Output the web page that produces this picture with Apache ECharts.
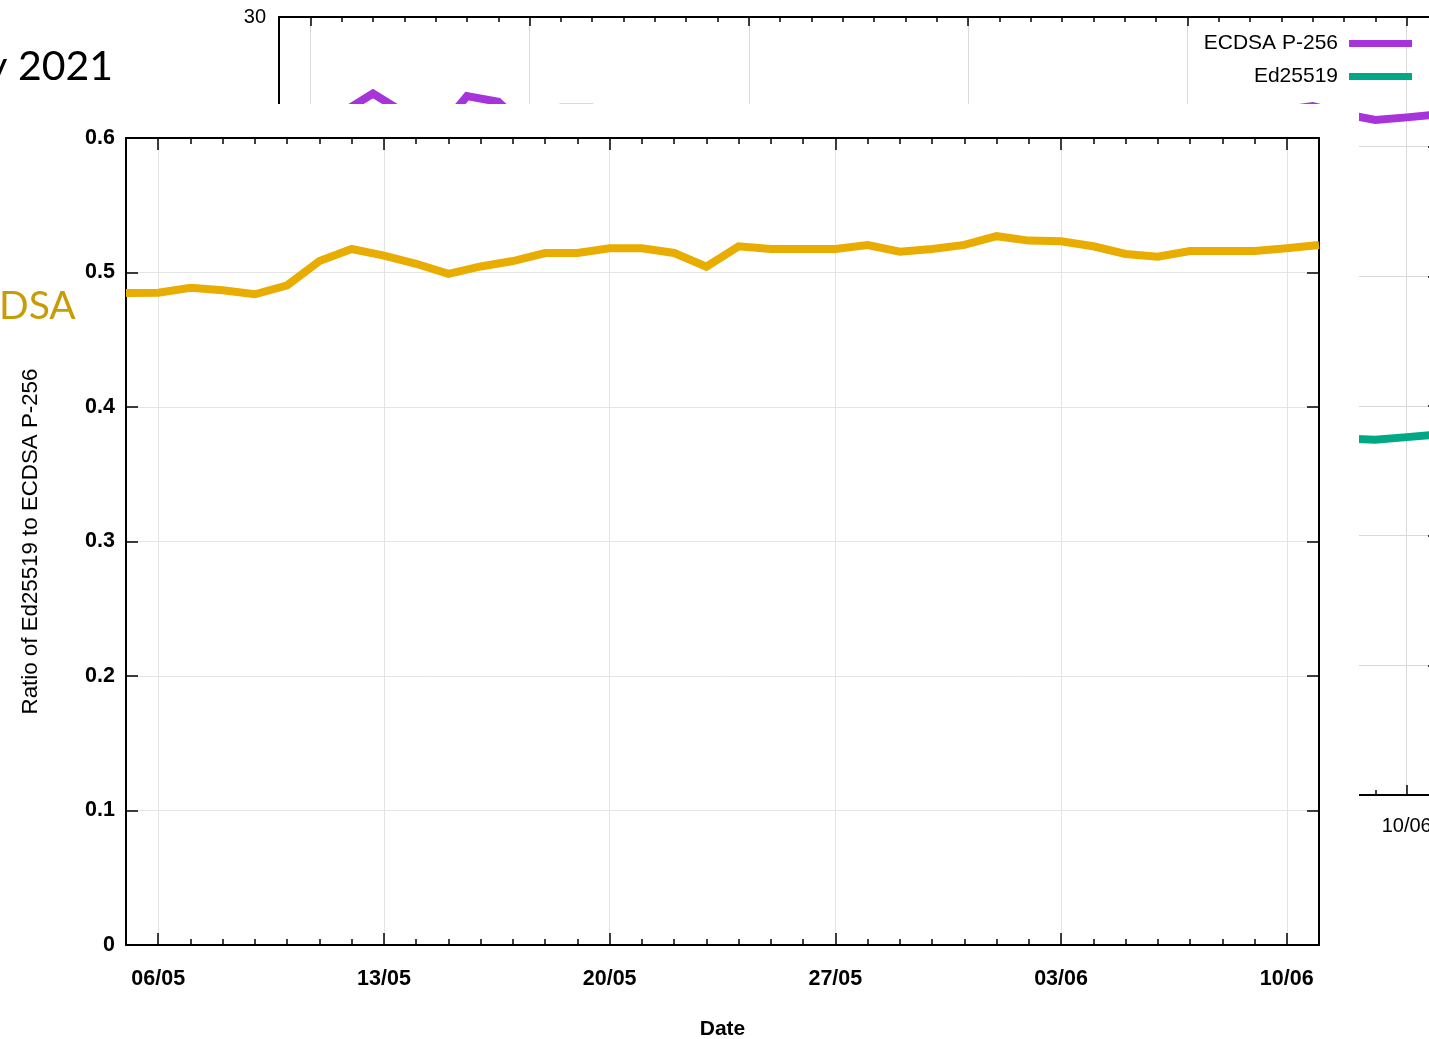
<!DOCTYPE html>
<html>
<head>
<meta charset="utf-8">
<script src="https://cdn.jsdelivr.net/npm/echarts@6/dist/echarts.min.js"></script>
<style>
html,body{margin:0;padding:0;background:#fff;overflow:hidden;}
#c{width:1429px;height:1039px;}
</style>
</head>
<body>
<div id="c"></div>
<script>
// ---- data ----
const dates = ['05/05','06/05','07/05','08/05','09/05','10/05','11/05','12/05','13/05','14/05','15/05','16/05','17/05','18/05','19/05','20/05','21/05','22/05','23/05','24/05','25/05','26/05','27/05','28/05','29/05','30/05','31/05','01/06','02/06','03/06','04/06','05/06','06/06','07/06','08/06','09/06','10/06','11/06'];
const ratio = [0.4848,0.4850,0.4887,0.4868,0.4838,0.4905,0.5085,0.5175,0.5125,0.5065,0.4990,0.5045,0.5085,0.5145,0.5145,0.5180,0.5180,0.5145,0.5043,0.5195,0.5175,0.5175,0.5175,0.5204,0.5155,0.5175,0.5205,0.5270,0.5237,0.5232,0.5195,0.5138,0.5118,0.5160,0.5160,0.5160,0.5180,0.5204];
const ecdsa = [26.10,26.20,26.30,27.05,26.30,25.50,26.95,26.73,25.60,26.50,26.50,26.00,25.80,26.20,26.10,26.30,26.20,25.90,26.40,26.00,26.10,26.20,26.00,26.30,26.10,26.20,26.00,25.80,26.10,26.20,26.00,26.30,26.40,26.57,26.26,26.03,26.13,26.24];
const ed25519 = [12.65,12.70,12.85,13.20,12.75,12.50,13.70,13.85,13.10,13.40,13.20,13.10,13.10,13.45,13.40,13.60,13.55,13.30,13.30,13.50,13.50,13.55,13.45,13.70,13.50,13.55,13.55,13.60,13.65,13.70,13.50,13.50,13.50,13.70,13.75,13.70,13.80,13.90];
const ratioTicks = {min: 0, max: 0.6, step: 0.1};
const timeTicks = {min: 0, max: 30, step: 5};

const FONT = 'Liberation Sans, Arial, sans-serif';
const major = (i) => (i - 1) % 7 === 0;
const black = '#000';

function xa(grid, pos, opts) {
  return Object.assign({
    type: 'category', gridIndex: grid, position: pos, data: dates, boundaryGap: false,
    axisLine: {show: false, onZero: false},
    axisTick: {show: false},
    axisLabel: {show: false},
    splitLine: {show: false}
  }, opts);
}

const chart = echarts.init(document.getElementById('c'), null, {width: 1429, height: 1039});
chart.setOption({
  animation: false,
  backgroundColor: '#fff',
  grid: [
    {left: 126, top: 138, width: 1193, height: 807, containLabel: false, outerBoundsMode: 'none'},
    {left: 279, top: 17, width: 1159, height: 778, containLabel: false, outerBoundsMode: 'none'}
  ],
  legend: {
    data: ['ECDSA P-256', 'Ed25519'],
    orient: 'vertical', right: 12, top: 28, align: 'right',
    icon: 'rect', itemWidth: 63, itemHeight: 7, itemGap: 12,
    selectedMode: false,
    textStyle: {fontSize: 21, color: black, fontFamily: FONT, padding: [0, 6, 0, 0]}
  },
  xAxis: [
    // main chart
    xa(0, 'bottom', {z: 60,
      axisLine: {show: true, onZero: false, lineStyle: {color: black, width: 2}},
      axisTick: {show: true, inside: true, length: 6, interval: 0, lineStyle: {color: black, width: 1.5}},
      axisLabel: {show: true, interval: major, margin: 23, fontSize: 21.5, fontWeight: 'bold', color: black, fontFamily: FONT},
      splitLine: {show: true, interval: major, lineStyle: {color: '#e4e4e4', width: 1}},
      name: 'Date', nameLocation: 'middle', nameGap: 74,
      nameTextStyle: {fontSize: 21, fontWeight: 'bold', color: black, fontFamily: FONT}
    }),
    xa(0, 'bottom', {z: 60, axisTick: {show: true, inside: true, length: 12, interval: major, lineStyle: {color: black, width: 1.5}}}),
    xa(0, 'top', {z: 60,
      axisLine: {show: true, onZero: false, lineStyle: {color: black, width: 2}},
      axisTick: {show: true, inside: true, length: 6, interval: 0, lineStyle: {color: black, width: 1.5}}}),
    xa(0, 'top', {z: 60, axisTick: {show: true, inside: true, length: 12, interval: major, lineStyle: {color: black, width: 1.5}}}),
    // background chart
    xa(1, 'bottom', {
      axisLine: {show: true, onZero: false, lineStyle: {color: black, width: 2}},
      axisTick: {show: true, inside: true, length: 5, interval: 0, lineStyle: {color: black, width: 1.5}},
      axisLabel: {show: true, interval: major, margin: 21, fontSize: 20, color: black, fontFamily: FONT},
      splitLine: {show: true, interval: major, lineStyle: {color: '#d9d9d9', width: 1}}
    }),
    xa(1, 'bottom', {axisTick: {show: true, inside: true, length: 10, interval: major, lineStyle: {color: black, width: 1.5}}}),
    xa(1, 'top', {
      axisLine: {show: true, onZero: false, lineStyle: {color: black, width: 2}},
      axisTick: {show: true, inside: true, length: 5, interval: 0, lineStyle: {color: black, width: 1.5}}}),
    xa(1, 'top', {axisTick: {show: true, inside: true, length: 9, interval: major, lineStyle: {color: black, width: 1.5}}})
  ],
  yAxis: [
    {type: 'value', gridIndex: 0, position: 'left', z: 60,
      min: ratioTicks.min, max: ratioTicks.max, interval: ratioTicks.step,
      axisLine: {show: true, onZero: false, lineStyle: {color: black, width: 2}},
      axisTick: {show: true, inside: true, length: 12, lineStyle: {color: black, width: 1.5}},
      axisLabel: {margin: 11, fontSize: 21.5, fontWeight: 'bold', color: black, fontFamily: FONT},
      splitLine: {show: true, lineStyle: {color: '#e4e4e4', width: 1}},
      name: 'Ratio of Ed25519 to ECDSA P-256', nameLocation: 'middle', nameGap: 84, nameRotate: 90,
      nameTextStyle: {fontSize: 22.3, color: black, fontFamily: FONT}
    },
    {type: 'value', gridIndex: 0, position: 'right', z: 60,
      min: ratioTicks.min, max: ratioTicks.max, interval: ratioTicks.step,
      axisLine: {show: true, onZero: false, lineStyle: {color: black, width: 2}},
      axisTick: {show: true, inside: true, length: 12, lineStyle: {color: black, width: 1.5}},
      axisLabel: {show: false}, splitLine: {show: false}
    },
    {type: 'value', gridIndex: 1, position: 'left',
      min: timeTicks.min, max: timeTicks.max, interval: timeTicks.step,
      axisLine: {show: true, onZero: false, lineStyle: {color: black, width: 2}},
      axisTick: {show: true, inside: true, length: 10, lineStyle: {color: black, width: 1.5}},
      axisLabel: {margin: 13, fontSize: 20, color: black, fontFamily: FONT},
      splitLine: {show: true, lineStyle: {color: '#d9d9d9', width: 1}}
    },
    {type: 'value', gridIndex: 1, position: 'right',
      min: timeTicks.min, max: timeTicks.max, interval: timeTicks.step,
      axisLine: {show: true, onZero: false, lineStyle: {color: black, width: 2}},
      axisTick: {show: true, inside: true, length: 10, lineStyle: {color: black, width: 1.5}},
      axisLabel: {show: false}, splitLine: {show: false}
    }
  ],
  series: [
    {name: 'ECDSA P-256', type: 'line', xAxisIndex: 4, yAxisIndex: 2, data: ecdsa,
      showSymbol: false, symbol: 'none', color: '#A634DA', lineStyle: {width: 8, color: '#A634DA', join: 'miter'}, z: 2},
    {name: 'Ed25519', type: 'line', xAxisIndex: 4, yAxisIndex: 2, data: ed25519,
      showSymbol: false, symbol: 'none', color: '#00A886', lineStyle: {width: 8, color: '#00A886', join: 'miter'}, z: 2},
    {name: 'ratio', type: 'line', xAxisIndex: 0, yAxisIndex: 0, data: ratio,
      showSymbol: false, symbol: 'none', color: '#E9AC00', lineStyle: {width: 8, color: '#E9AC00', join: 'miter'}, z: 70}
  ],
  graphic: [
    {type: 'rect', z: 50, silent: true, shape: {x: 0, y: 104, width: 1359, height: 935}, style: {fill: '#fff'}},
    {type: 'text', z: 65, silent: true, x: 113, y: 67,
      style: {text: 'y 2021', fill: '#000', font: '41px Lato, "Open Sans", sans-serif', textAlign: 'right', textVerticalAlign: 'middle'}},
    {type: 'text', z: 65, silent: true, x: -1, y: 306,
      style: {text: 'DSA', fill: '#C79C05', font: '39px Lato, "Open Sans", sans-serif', textAlign: 'left', textVerticalAlign: 'middle'}}
  ]
});
</script>
</body>
</html>
